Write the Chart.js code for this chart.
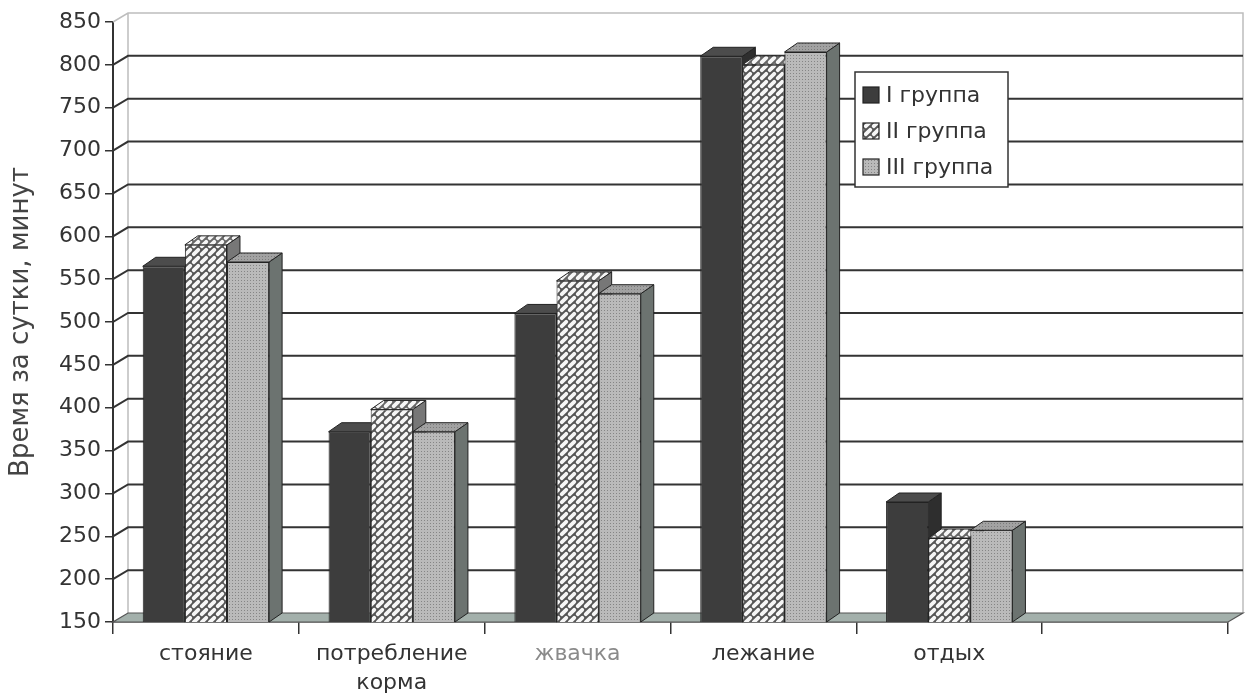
<!DOCTYPE html>
<html lang="ru">
<head>
    <meta charset="UTF-8">
    <title>Время за сутки по группам</title>
    <style>
        html, body {
            margin: 0;
            padding: 0;
            background: #fff;
        }

        .wrap {
            width: 1253px;
            height: 694px;
            position: relative;
        }
    </style>
</head>
<body>
    <div class="wrap">
        <canvas id="chart"></canvas>
    </div>
    <script src="https://cdn.jsdelivr.net/npm/chart.js"></script>
    <script>
        const categories = ['стояние', ['потребление', 'корма'], 'жвачка', 'лежание', 'отдых', ''];
        const groupNames = ['I группа', 'II группа', 'III группа'];
        const group1 = [565, 372, 510, 810, 290, null];
        const group2 = [590, 398, 548, 800, 248, null];
        const group3 = [570, 372, 533, 815, 257, null];
        const yMin = 150;
        const yMax = 850;
        const yStep = 50;

        const FONT = '"DejaVu Sans", Arial, sans-serif';
        const barDepth = { dx: 13, dy: -9 };
        const wallDepth = { dx: 15, dy: -9 };

        const canvas = document.getElementById('chart');
        const ctx = canvas.getContext('2d');

        function tile(w, h, draw) {
            const c = document.createElement('canvas');
            c.width = w;
            c.height = h;
            draw(c.getContext('2d'), w, h);
            return ctx.createPattern(c, 'repeat');
        }

        // diagonal brick: white rounded bricks along "/" in staggered lanes
        function hatch(bg) {
            return tile(8, 8, (g, w, h) => {
                g.fillStyle = bg;
                g.fillRect(0, 0, w, h);
                g.strokeStyle = '#f6f6f6';
                g.lineWidth = 3.8;
                g.lineCap = 'round';
                for (const ox of [-w, 0, w]) {
                    for (const oy of [-h, 0, h]) {
                        g.beginPath();
                        g.moveTo(4 + ox - 2.2, 4 + oy + 2.2);
                        g.lineTo(4 + ox + 2.2, 4 + oy - 2.2);
                        g.stroke();
                    }
                }
            });
        }

        function dots(bg, dot) {
            return tile(3, 3, (g) => {
                g.fillStyle = bg;
                g.fillRect(0, 0, 3, 3);
                g.fillStyle = dot;
                g.fillRect(1, 1, 1, 1);
            });
        }

        const fronts = ['#3d3d3d', hatch('#555'), dots('#bababa', '#858585')];
        const tops = ['#4c4c4c', hatch('#666'), dots('#a2a2a2', '#7a7a7a')];
        const sides = ['#2e2e2e', '#777', '#6c7370'];

        function poly(points, fill) {
            ctx.beginPath();
            ctx.moveTo(points[0][0], points[0][1]);
            points.slice(1).forEach(p => ctx.lineTo(p[0], p[1]));
            ctx.closePath();
            ctx.fillStyle = fill;
            ctx.fill();
            ctx.stroke();
        }

        const threeD = {
            id: 'threeD',
            beforeDatasetsDraw(chart) {
                const { chartArea: a, scales: { y } } = chart;
                const { dx, dy } = wallDepth;
                ctx.save();

                // back wall frame
                ctx.strokeStyle = '#bdbdbd';
                ctx.lineWidth = 1.5;
                const wallTop = y.getPixelForValue(yMax) + dy;
                const wallBottom = y.getPixelForValue(yMin) + dy;
                ctx.beginPath();
                ctx.moveTo(a.left, y.getPixelForValue(yMax));
                ctx.lineTo(a.left + dx, wallTop);
                ctx.lineTo(a.right + dx, wallTop);
                ctx.lineTo(a.right + dx, wallBottom);
                ctx.moveTo(a.left + dx, wallTop);
                ctx.lineTo(a.left + dx, wallBottom);
                ctx.stroke();

                // gridlines on the back wall with their slanted side-wall leads
                ctx.strokeStyle = '#333';
                ctx.lineWidth = 2;
                for (let v = yMin + yStep; v < yMax; v += yStep) {
                    const py = y.getPixelForValue(v);
                    ctx.beginPath();
                    ctx.moveTo(a.left, py);
                    ctx.lineTo(a.left + dx, py + dy);
                    ctx.lineTo(a.right + dx, py + dy);
                    ctx.stroke();
                }

                // floor
                const fy = y.getPixelForValue(yMin);
                ctx.fillStyle = '#a3b0ab';
                ctx.beginPath();
                ctx.moveTo(a.left, fy);
                ctx.lineTo(a.right, fy);
                ctx.lineTo(a.right + dx, fy + dy);
                ctx.lineTo(a.left + dx, fy + dy);
                ctx.closePath();
                ctx.fill();
                ctx.strokeStyle = '#555';
                ctx.lineWidth = 1.2;
                ctx.stroke();

                // top and side faces of the columns, left to right
                ctx.strokeStyle = '#222';
                ctx.lineWidth = 1;
                const b = barDepth;
                categories.forEach((_, j) => {
                    chart.data.datasets.forEach((ds, i) => {
                        if (ds.data[j] == null) return;
                        const bar = chart.getDatasetMeta(i).data[j];
                        const { x, y: top, width } = bar.getProps(['x', 'y', 'width'], true);
                        const base = fy;
                        const l = x - width / 2;
                        const r = x + width / 2;
                        poly([[r, top], [r + b.dx, top + b.dy], [r + b.dx, base + b.dy], [r, base]], sides[i]);
                        poly([[l, top], [l + b.dx, top + b.dy], [r + b.dx, top + b.dy], [r, top]], tops[i]);
                    });
                });
                ctx.restore();
            },
            afterDraw(chart) {
                // legend box inside the plot
                const box = { x: 855, y: 72, w: 153, h: 115 };
                ctx.save();
                ctx.fillStyle = '#fff';
                ctx.strokeStyle = '#333';
                ctx.lineWidth = 1.5;
                ctx.fillRect(box.x, box.y, box.w, box.h);
                ctx.strokeRect(box.x, box.y, box.w, box.h);
                ctx.font = '22px ' + FONT;
                ctx.textBaseline = 'middle';
                chart.data.datasets.forEach((ds, i) => {
                    const cy = box.y + 23 + i * 36;
                    ctx.fillStyle = fronts[i];
                    ctx.fillRect(box.x + 8, cy - 8, 16, 16);
                    ctx.strokeStyle = '#222';
                    ctx.lineWidth = 1.2;
                    ctx.strokeRect(box.x + 8, cy - 8, 16, 16);
                    ctx.fillStyle = '#333';
                    ctx.fillText(ds.label, box.x + 31, cy + 1);
                });
                ctx.restore();
            }
        };

        new Chart(ctx, {
            type: 'bar',
            data: {
                labels: categories,
                datasets: [group1, group2, group3].map((values, i) => ({
                    label: groupNames[i],
                    data: values,
                    backgroundColor: fronts[i],
                    borderColor: '#222',
                    borderWidth: 1,
                    categoryPercentage: 0.68,
                    barPercentage: 1
                }))
            },
            options: {
                responsive: true,
                maintainAspectRatio: false,
                animation: false,
                layout: { padding: { top: 22, right: 25, left: 0, bottom: 0 } },
                plugins: {
                    legend: { display: false },
                    tooltip: { enabled: false }
                },
                scales: {
                    x: {
                        afterFit: (s) => { s.height = 72; },
                        grid: {
                            offset: true,
                            drawOnChartArea: false,
                            tickLength: 12,
                            color: '#333',
                            lineWidth: 1.5
                        },
                        border: { color: '#333', width: 1.5 },
                        ticks: {
                            color: (c) => c.index === 2 ? '#8a8a8a' : '#333',
                            font: { family: FONT, size: 22, lineHeight: 1.3 },
                            padding: 6,
                            maxRotation: 0,
                            autoSkip: false
                        }
                    },
                    y: {
                        min: yMin,
                        max: yMax,
                        afterFit: (s) => { s.width = 113; },
                        grid: {
                            drawOnChartArea: false,
                            tickLength: 8,
                            color: '#333',
                            lineWidth: 1.5
                        },
                        border: { color: '#333', width: 2 },
                        ticks: {
                            stepSize: yStep,
                            color: '#333',
                            font: { family: FONT, size: 22 },
                            padding: 4
                        },
                        title: {
                            display: true,
                            text: 'Время за сутки, минут',
                            color: '#444',
                            font: { family: FONT, size: 26 },
                            padding: { top: 6, bottom: 0 }
                        }
                    }
                }
            },
            plugins: [threeD]
        });
    </script>
</body>
</html>
